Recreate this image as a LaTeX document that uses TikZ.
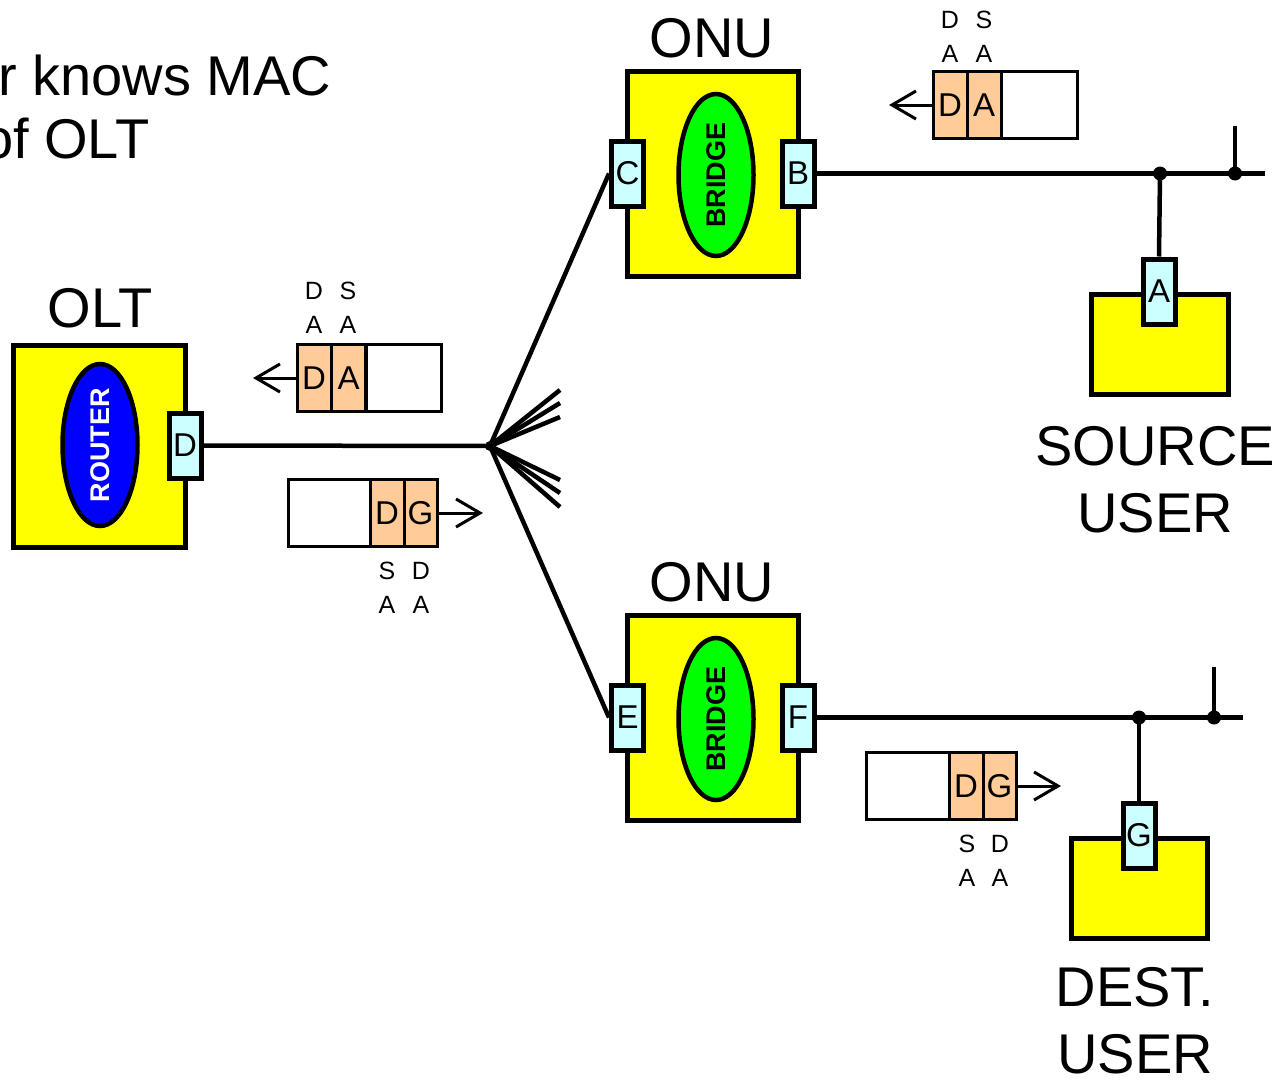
\documentclass[tikz,border=0pt]{standalone}
\usepackage{fontspec}
\setmainfont{Liberation Sans}
\usetikzlibrary{shapes.geometric,arrows.meta}
\definecolor{unitfill}{RGB}{255,255,0}
\definecolor{portfill}{RGB}{204,255,255}
\definecolor{cellfill}{RGB}{255,204,153}
\definecolor{routerfill}{RGB}{0,0,255}
\definecolor{bridgefill}{RGB}{0,255,0}
\newcommand\fbig{\fontsize{56pt}{67pt}\selectfont}
\newcommand\fport{\fontsize{33pt}{40pt}\selectfont}
\newcommand\fsmall{\fontsize{25pt}{34pt}\selectfont}
\newcommand\fcore{\fontsize{27pt}{32pt}\selectfont\bfseries}
\begin{document}
\begin{tikzpicture}[x=1pt,y=-1pt,
 unit/.style={draw, line width=5pt, fill=unitfill, rectangle, inner sep=0pt},
 port/.style={draw, line width=5pt, fill=portfill, rectangle, inner sep=0pt, minimum width=32pt, minimum height=65pt, font=\fport},
 core/.style={draw, line width=4.5pt, ellipse, rotate=90, minimum width=162pt, minimum height=75pt, inner sep=0pt, font=\fcore},
 cell/.style={draw, line width=3pt, fill=cellfill, minimum width=34pt, minimum height=67pt, inner sep=0pt, font=\fport},
 blank/.style={draw, line width=3pt, fill=white, minimum height=67pt, inner sep=0pt},
 wire/.style={line width=4.5pt},
 flow/.style={line width=3pt, -{Straight Barb[length=24pt,width=28pt]}},
 addr/.style={align=center, font=\fsmall, inner sep=0pt},
 title/.style={font=\fbig, inner sep=0pt, align=center},
 joint/.style={circle, fill=black, minimum size=14pt, inner sep=0pt}
]
\useasboundingbox (0,0) rectangle (1281,1079);
\clip (0,0) rectangle (1281,1079);
\fill[white] (0,0) rectangle (1281,1079);

% note (cut at the left edge)
\node[font=\fbig, anchor=base west, inner sep=0pt] (note1) at (-2,95) {r knows MAC};
\node[font=\fbig, anchor=base west, inner sep=0pt] (note2) at (-18,158) {of OLT};

% splitter
\coordinate (split) at (490,446);
\coordinate (fa) at (560,390);
\coordinate (fb) at (560,403);
\coordinate (fc) at (560,417);
\coordinate (fd) at (560,480);
\coordinate (fe) at (560,493);
\coordinate (ff) at (560,507);

% OLT
\node[title, anchor=base] (oltlabel) at (100,327) {OLT};
\node[unit, minimum width=172pt, minimum height=202pt] (olt) at (99.5,446) {};
\node[core, fill=routerfill, text=white] (router) at (100,445) {ROUTER};
\node[port] (pD) at (185,445.5) {D};

% ONU top
\node[title, anchor=base] (onu1label) at (712,57) {ONU};
\node[unit, minimum width=171pt, minimum height=205pt] (onu1) at (712.5,173.5) {};
\node[core, fill=bridgefill] (bridge1) at (716,175) {BRIDGE};
\node[port] (pC) at (627.5,173.5) {C};
\node[port] (pB) at (798,173.5) {B};

% ONU bottom
\node[title, anchor=base] (onu2label) at (712,601) {ONU};
\node[unit, minimum width=171pt, minimum height=205pt] (onu2) at (712.5,717.5) {};
\node[core, fill=bridgefill] (bridge2) at (716,719) {BRIDGE};
\node[port] (pE) at (627.5,717.5) {E};
\node[port] (pF) at (798,717.5) {F};

% source user
\node[unit, minimum width=137pt, minimum height=100pt] (src) at (1159.5,344) {};
\node[port] (pA) at (1159,291.5) {A};
\node[title, anchor=base] (srclabel) at (1155,532) {SOURCE\\USER};

% destination user
\node[unit, minimum width=136pt, minimum height=100pt] (dst) at (1139,888) {};
\node[port] (pG) at (1139,835.5) {G};
\node[title, anchor=base] (dstlabel) at (1135,1073) {DEST.\\USER};

% wires
\draw[wire] (pD.east) -- (split);
\draw[wire] (split) -- (pC.west);
\draw[wire] (split) -- (pE.west);
\draw[wire] (split) -- (fa);
\draw[wire] (split) -- (fb);
\draw[wire] (split) -- (fc);
\draw[wire] (split) -- (fd);
\draw[wire] (split) -- (fe);
\draw[wire] (split) -- (ff);
\fill (split) circle (5pt);

% bus 1
\coordinate (bus1end) at (1265,173.5);
\coordinate (stub1) at (1235,126);
\node[joint] (j1) at (1160,173.5) {};
\node[joint] (j2) at (1235,173.5) {};
\draw[wire] (pB.east) -- (bus1end);
\draw[wire] (j2.center) -- (stub1);
\draw[wire] (j1.center) -- (pA.north);

% bus 2
\coordinate (bus2end) at (1243,717.5);
\coordinate (stub2) at (1214,667);
\node[joint] (j3) at (1139,717.5) {};
\node[joint] (j4) at (1214,717.5) {};
\draw[wire] (pF.east) -- (bus2end);
\draw[wire] (j4.center) -- (stub2);
\draw[wire] (j3.center) -- (pG.north);

% frame near OLT, upstream
\node[cell] (u1d) at (314,378) {D};
\node[cell] (u1a) at (348.5,378) {A};
\node[blank, minimum width=75pt] (u1b) at (403.5,378) {};
\coordinate (u1tip) at (253,378);
\draw[flow] (u1d.west) -- (u1tip);
\node[addr] (u1l1) at (314,308) {D\\A};
\node[addr] (u1l2) at (348,308) {S\\A};

% frame near OLT, downstream
\node[blank, minimum width=82pt] (d1b) at (329,513) {};
\node[cell] (d1d) at (387,513) {D};
\node[cell, minimum width=33pt] (d1g) at (420.5,513) {G};
\coordinate (d1tip) at (483,513);
\draw[flow] (d1g.east) -- (d1tip);
\node[addr] (d1l1) at (387,588) {S\\A};
\node[addr] (d1l2) at (421,588) {D\\A};

% frame near top ONU
\node[cell] (u2d) at (950,105) {D};
\node[cell] (u2a) at (984,105) {A};
\node[blank, minimum width=76pt] (u2b) at (1039,105) {};
\coordinate (u2tip) at (889,105);
\draw[flow] (u2d.west) -- (u2tip);
\node[addr] (u2l1) at (950,37) {D\\A};
\node[addr] (u2l2) at (984,37) {S\\A};

% frame near bottom ONU
\node[blank, minimum width=83pt] (d2b) at (907.5,786) {};
\node[cell] (d2d) at (966,786) {D};
\node[cell, minimum width=33pt] (d2g) at (999.5,786) {G};
\coordinate (d2tip) at (1061,786);
\draw[flow] (d2g.east) -- (d2tip);
\node[addr] (d2l1) at (967,861) {S\\A};
\node[addr] (d2l2) at (1000,861) {D\\A};
\end{tikzpicture}
\end{document}
